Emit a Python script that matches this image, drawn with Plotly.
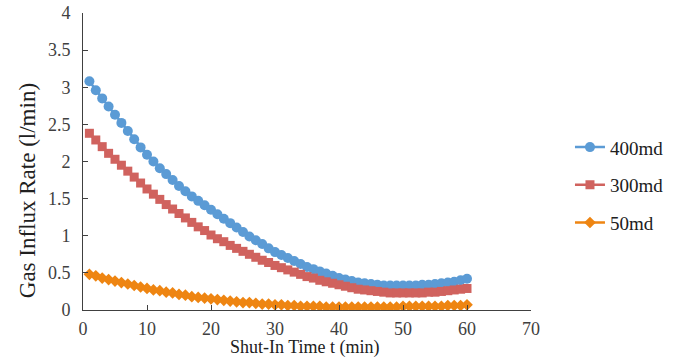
import plotly.graph_objects as go

t = list(range(1, 61))

q400 = [3.08, 2.96, 2.85, 2.74, 2.63, 2.52, 2.41, 2.30, 2.19, 2.09,
        2.00, 1.91, 1.83, 1.75, 1.67, 1.60, 1.53, 1.47, 1.41, 1.35,
        1.29, 1.23, 1.17, 1.11, 1.05, 0.99, 0.94, 0.89, 0.83, 0.78,
        0.74, 0.70, 0.66, 0.62, 0.58, 0.55, 0.52, 0.49, 0.46, 0.43,
        0.41, 0.39, 0.37, 0.36, 0.35, 0.34, 0.33, 0.33, 0.33, 0.33,
        0.33, 0.33, 0.34, 0.34, 0.35, 0.36, 0.37, 0.38, 0.40, 0.42]

q300 = [2.38, 2.29, 2.20, 2.11, 2.03, 1.95, 1.87, 1.79, 1.71, 1.63,
        1.56, 1.49, 1.42, 1.36, 1.30, 1.24, 1.18, 1.12, 1.07, 1.01,
        0.96, 0.92, 0.87, 0.83, 0.79, 0.75, 0.71, 0.67, 0.64, 0.60,
        0.57, 0.54, 0.51, 0.48, 0.45, 0.43, 0.40, 0.38, 0.36, 0.34,
        0.32, 0.30, 0.28, 0.27, 0.26, 0.25, 0.24, 0.23, 0.23, 0.23,
        0.23, 0.23, 0.23, 0.24, 0.24, 0.25, 0.26, 0.27, 0.28, 0.29]

q50 = [0.48, 0.46, 0.43, 0.41, 0.39, 0.37, 0.35, 0.33, 0.31, 0.29,
       0.27, 0.26, 0.24, 0.23, 0.21, 0.20, 0.18, 0.17, 0.16, 0.15,
       0.14, 0.13, 0.12, 0.11, 0.10, 0.10, 0.09, 0.08, 0.08, 0.07,
       0.07, 0.06, 0.06, 0.05, 0.05, 0.05, 0.05, 0.04, 0.04, 0.04,
       0.04, 0.04, 0.04, 0.04, 0.04, 0.04, 0.04, 0.04, 0.04, 0.05,
       0.05, 0.05, 0.05, 0.05, 0.05, 0.05, 0.06, 0.06, 0.06, 0.07]

names = ["400md", "300md", "50md"]
colors = ["#5B9BD5", "#D0625E", "#EE8512"]
symbols = ["circle", "square", "diamond"]
sizes = [10, 9, 9]

FONT = "Liberation Serif"

fig = go.Figure()
for i, (name, y) in enumerate(zip(names, [q400, q300, q50])):
    fig.add_trace(go.Scatter(
        x=t, y=y, name=name, mode="lines+markers",
        line=dict(color=colors[i], width=2.5),
        marker=dict(symbol=symbols[i], size=sizes[i], color=colors[i]),
        legendgroup=name,
    ))

fig.update_layout(
    width=682, height=358,
    margin=dict(l=83, r=151, t=13, b=48),
    paper_bgcolor="white", plot_bgcolor="white",
    font=dict(family=FONT, size=18, color="#404040"),
    showlegend=True,
    legend=dict(x=1.087, y=0.42, xanchor="left", yanchor="middle",
                font=dict(family=FONT, size=19, color="#202020"),
                tracegroupgap=10, itemwidth=30),
    annotations=[
        dict(text="Gas Influx Rate (l/min)", textangle=-90,
             xref="paper", yref="paper", x=-0.125, y=0.40,
             xanchor="center", yanchor="middle", showarrow=False,
             font=dict(family=FONT, size=23, color="#202020")),
        dict(text="Shut-In Time t (min)",
             xref="paper", yref="paper", x=0.495, y=-0.0843,
             xanchor="center", yanchor="top", showarrow=False,
             font=dict(family=FONT, size=18, color="#202020")),
    ],
)
fig.update_xaxes(range=[0, 70], dtick=10, tick0=0, automargin=False,
                 showline=True, linecolor="#404040", linewidth=1,
                 ticks="inside", ticklen=5, tickcolor="#404040",
                 showgrid=False, zeroline=False, ticklabelstandoff=2,
                 tickfont=dict(size=18))
fig.update_yaxes(range=[0, 4], dtick=0.5, tick0=0, automargin=False,
                 showline=True, linecolor="#404040", linewidth=1,
                 ticks="inside", ticklen=5, tickcolor="#404040",
                 showgrid=False, zeroline=False, ticklabelstandoff=8)

fig.write_html("out.html")
